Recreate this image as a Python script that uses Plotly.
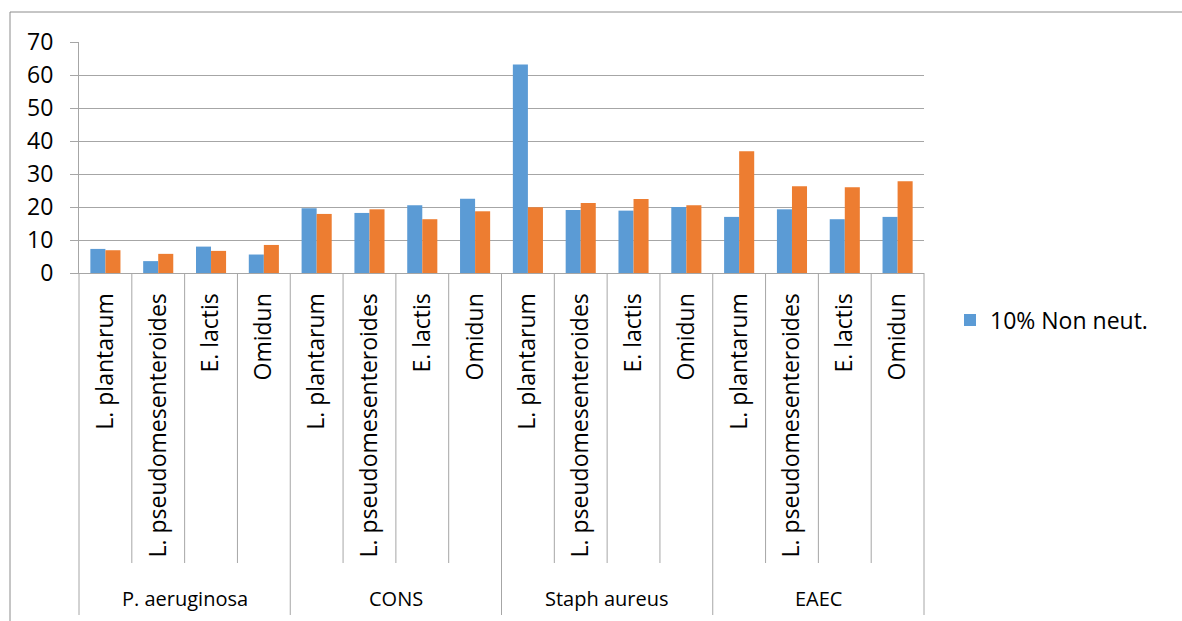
import plotly.graph_objects as go

# Bacterial strains (outer level) and probiotic treatments (inner level)
groups = ["P. aeruginosa", "CONS", "Staph aureus", "EAEC"]
treatments = ["L. plantarum", "L. pseudomesenteroides", "E. lactis", "Omidun"]

non_neut = [7.3, 3.6, 8.0, 5.6,
            19.6, 18.2, 20.5, 22.5,
            63.2, 19.1, 18.9, 20.0,
            17.0, 19.3, 16.3, 17.0]
neut = [6.9, 5.8, 6.7, 8.5,
        17.9, 19.3, 16.3, 18.7,
        19.9, 21.2, 22.4, 20.5,
        36.9, 26.3, 26.0, 27.8]

y_ticks = [0, 10, 20, 30, 40, 50, 60, 70]

W, H = 1182, 621
L, R, T, B = 79, 924, 42, 273          # plot area in pixels
FONT = "Open Sans"
FS = 23
GRID = "#a6a6a6"

n_sub = len(treatments)
n = len(groups) * n_sub
xs = list(range(n))
ticktext = [t for _ in groups for t in treatments]


def px_x(p):
    return (p - L) / (R - L)


def px_y(p):
    return (B - p) / (B - T)


fig = go.Figure()
fig.add_trace(go.Bar(x=xs, y=non_neut, name="10% Non neut.",
                     marker=dict(color="#5b9bd5", line=dict(width=0))))
fig.add_trace(go.Bar(x=xs, y=neut, name="10% Neut.", showlegend=False,
                     marker=dict(color="#ed7d31", line=dict(width=0))))

shapes = []
# outer chart frame
shapes.append(dict(type="rect", xref="paper", yref="paper",
                   x0=px_x(10), x1=px_x(W + 20), y0=px_y(H + 20), y1=px_y(12),
                   line=dict(color="#8c8c8c", width=1), layer="below"))
# category dividers below the axis
for i in range(n + 1):
    is_group = (i % n_sub == 0)
    bottom = 615 if is_group else 563
    shapes.append(dict(type="line", xref="paper", yref="paper",
                       x0=i / n, x1=i / n, y0=px_y(B), y1=px_y(bottom),
                       line=dict(color=GRID, width=1)))

annotations = []
for g, name in enumerate(groups):
    annotations.append(dict(xref="paper", yref="paper",
                            x=(g * n_sub + n_sub / 2) / n, y=px_y(598),
                            text=name, showarrow=False,
                            xanchor="center", yanchor="middle",
                            font=dict(family=FONT, size=20, color="#000")))

fig.update_layout(
    width=W, height=H,
    margin=dict(l=L, r=W - R, t=T, b=H - B),
    paper_bgcolor="white", plot_bgcolor="white",
    barmode="group", bargap=0.43, bargroupgap=0,
    font=dict(family=FONT, size=FS, color="#000"),
    shapes=shapes, annotations=annotations,
    legend=dict(x=px_x(950), y=px_y(320), xanchor="left", yanchor="middle",
                font=dict(family=FONT, size=FS, color="#000"),
                bgcolor="rgba(0,0,0,0)", itemwidth=30),
    xaxis=dict(range=[-0.5, n - 0.5], tickvals=xs, ticktext=ticktext,
               tickangle=-90, ticks="", showgrid=False, zeroline=False,
               showline=True, linecolor=GRID, linewidth=1,
               ticklabelstandoff=10,
               tickfont=dict(family=FONT, size=FS, color="#000")),
    yaxis=dict(range=[0, 70], tickvals=y_ticks, showgrid=True,
               gridcolor=GRID, gridwidth=1, zeroline=False,
               showline=True, linecolor=GRID, linewidth=1,
               ticks="outside", ticklen=8, tickcolor=GRID,
               ticklabelstandoff=12,
               tickfont=dict(family=FONT, size=FS, color="#000")),
)

fig.write_html("out.html")
